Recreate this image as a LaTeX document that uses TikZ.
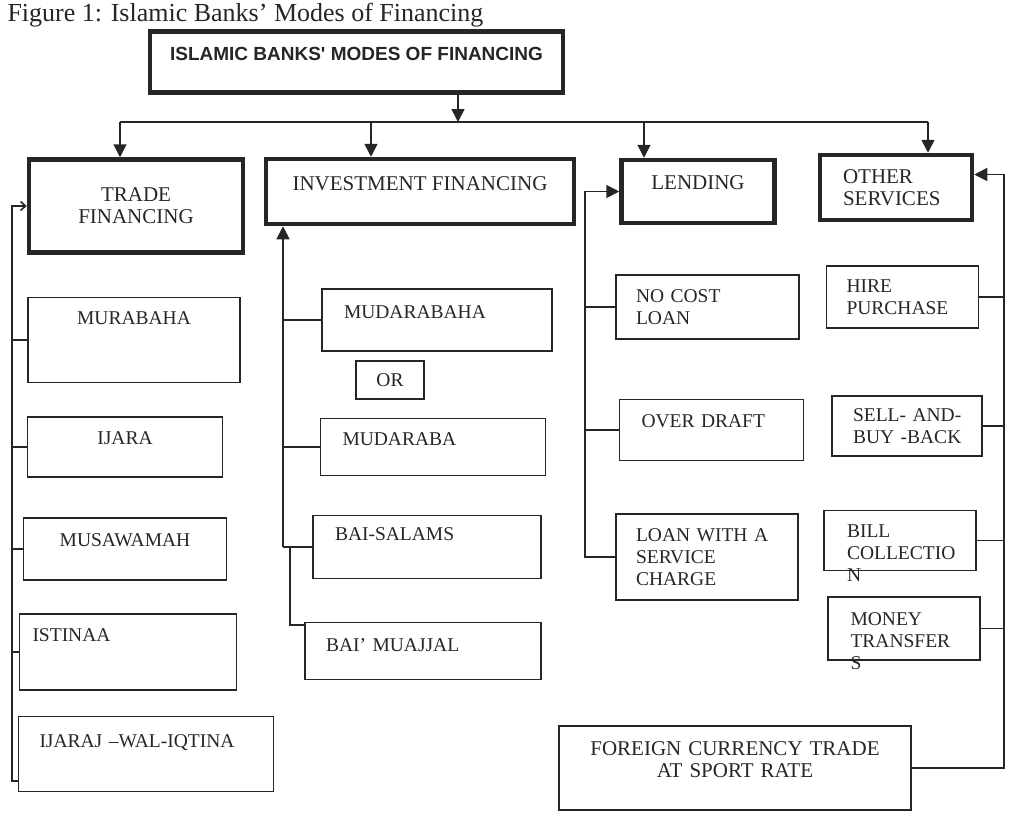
\documentclass[tikz,border=0pt]{standalone}
\usepackage{fontspec}
\setmainfont{Liberation Serif}
\newfontfamily\banksans{Liberation Sans}
\usetikzlibrary{arrows.meta}
\definecolor{ink}{HTML}{262626}
\hyphenpenalty=10000
\exhyphenpenalty=10000

\begin{document}
\begin{tikzpicture}[x=1pt, y=-1pt, color=ink,
    head/.style={draw, line width=4.5pt, font=\fontsize{21}{22}\selectfont, align=center},
    cell/.style={draw, line width=1.5pt, font=\fontsize{19.5}{22}\selectfont, align=left},
    link/.style={line width=1.6pt},
    flow/.style={link, -{Triangle[width=13pt, length=13pt]}}]
  \useasboundingbox (0,0) rectangle (1031,820);
  \fill[white] (0,0) rectangle (1031,820);

  % heading
  \node[anchor=base west, font=\fontsize{26}{30}\selectfont] (caption) at (4,21) {Figure 1: Islamic Banks' Modes of Financing};
  \node[head, minimum width=413pt, minimum height=61pt, text depth=16pt, font=\banksans\bfseries\fontsize{19}{22}\selectfont] (modes) at (356.5,62) {ISLAMIC BANKS' MODES OF FINANCING};

  % main groups
  \node[head, minimum width=214pt, minimum height=93pt] (trade) at (136,206) {TRADE\\FINANCING};
  \node[head, minimum width=308pt, minimum height=65pt, text depth=16pt] (invest) at (420,191.5) {INVESTMENT FINANCING};
  \node[head, minimum width=153pt, minimum height=63pt, text depth=17pt] (lending) at (698,191.5) {LENDING};
  \node[head, align=left, text width=106pt, inner xsep=23pt, minimum height=65pt] (other) at (896,187.5) {OTHER\\SERVICES};

  % trade financing
  \node[cell, minimum width=212pt, minimum height=85pt, text depth=44pt] (murabaha) at (134,340) {MURABAHA};
  \node[cell, minimum width=195pt, minimum height=60pt, text depth=18pt] (ijara) at (125,447) {IJARA};
  \node[cell, minimum width=203pt, minimum height=62pt, text depth=18pt] (musawamah) at (125,549) {MUSAWAMAH};
  \node[cell, text width=191pt, inner xsep=13pt, minimum height=76pt, text depth=34pt] (istinaa) at (128,652) {ISTINAA};
  \node[cell, text width=213pt, inner xsep=21pt, minimum height=75pt, text depth=26pt] (ijaraj) at (146,754) {IJARAJ --WAL-IQTINA};

  % investment financing
  \node[cell, text width=186pt, inner xsep=22pt, minimum height=62pt, text depth=16pt] (mudarabaha) at (437,320) {MUDARABAHA};
  \node[cell, minimum width=68pt, minimum height=38pt] (orbox) at (390,380) {OR};
  \node[cell, text width=181pt, inner xsep=22pt, minimum height=57pt, text depth=15pt] (mudaraba) at (433,447) {MUDARABA};
  \node[cell, text width=184pt, inner xsep=22pt, minimum height=63pt, text depth=25pt] (baisalams) at (427,547) {BAI-SALAMS};
  \node[cell, text width=194pt, inner xsep=21pt, minimum height=57pt, text depth=12pt] (muajjal) at (423,651) {BAI' MUAJJAL};

  % lending
  \node[cell, text width=143pt, inner xsep=20pt, minimum height=64pt] (nocost) at (707.5,307) {NO COST\\LOAN};
  \node[cell, text width=140pt, inner xsep=22pt, minimum height=61pt, text depth=18pt] (overdraft) at (711.5,430) {OVER DRAFT};
  \node[cell, text width=142pt, inner xsep=20pt, minimum height=86pt] (charge) at (707,557) {LOAN WITH A\\SERVICE\\CHARGE};

  % other services
  \node[cell, text width=112pt, inner xsep=20pt, minimum height=62pt] (hire) at (902.5,297) {HIRE\\PURCHASE};
  \node[cell, text width=108pt, inner xsep=21pt, minimum height=60pt] (sellbuy) at (907,426) {SELL-~AND-\\BUY~-BACK};
  \node[cell, text width=106pt, inner xsep=23pt, minimum height=60pt, text depth=19pt] (bill) at (900,540.5) {BILL\\COLLECTIO\\N};
  \node[cell, text width=107pt, inner xsep=22.5pt, minimum height=63pt, text depth=19pt] (money) at (904,628.5) {MONEY\\TRANSFER\\S};
  \node[cell, align=center, text width=300pt, inner xsep=26pt, minimum height=84pt, text depth=38pt, font=\fontsize{21}{22}\selectfont] (foreign) at (735,768) {FOREIGN CURRENCY TRADE\\AT SPORT RATE};

  % bus points
  \coordinate (bt) at (120,122);
  \coordinate (bi) at (371,122);
  \coordinate (bm) at (458,122);
  \coordinate (bl) at (644,122);
  \coordinate (bo) at (928,122);
  \coordinate (tbus) at (12,0);
  \coordinate (ibus) at (283,0);
  \coordinate (mbus) at (290,0);
  \coordinate (lbus) at (585,0);
  \coordinate (obus) at (1004,0);
  \coordinate (ijin) at ([yshift=-27pt]ijaraj.west);
  \coordinate (oin) at ([yshift=13pt]other.east);

  % top lines
  \draw[link] (bt) -- (bo);
  \draw[flow] (bm |- modes.south) -- (bm);
  \foreach \bp/\bx in {bt/trade, bi/invest, bl/lending, bo/other}
    \draw[flow] (\bp) -- (\bp |- \bx.north);

  % trade lines
  \draw[link, -{Straight Barb[length=5pt, width=9pt]}] (ijin) -- (ijin -| tbus) -- (trade.west -| tbus) -- (trade.west);
  \foreach \bx in {murabaha, ijara, musawamah, istinaa}
    \draw[link] (\bx.west) -- (\bx.west -| tbus);

  % investment lines
  \draw[flow] (baisalams.west -| ibus) -- (invest.south -| ibus);
  \foreach \bx in {mudarabaha, mudaraba, baisalams}
    \draw[link] (\bx.west) -- (\bx.west -| ibus);
  \draw[link] (baisalams.west -| mbus) |- ([yshift=-3pt]muajjal.north west);

  % lending lines
  \draw[flow] (charge.west) -- (charge.west -| lbus) -- (lending.west -| lbus) -- (lending.west);
  \foreach \bx in {nocost, overdraft}
    \draw[link] (\bx.west) -- (\bx.west -| lbus);

  % other services lines
  \draw[flow] (foreign.east) -- (foreign.east -| obus) -- (oin -| obus) -- (oin);
  \foreach \bx in {hire, sellbuy, bill, money}
    \draw[link] (\bx.east) -- (\bx.east -| obus);
\end{tikzpicture}
\end{document}
